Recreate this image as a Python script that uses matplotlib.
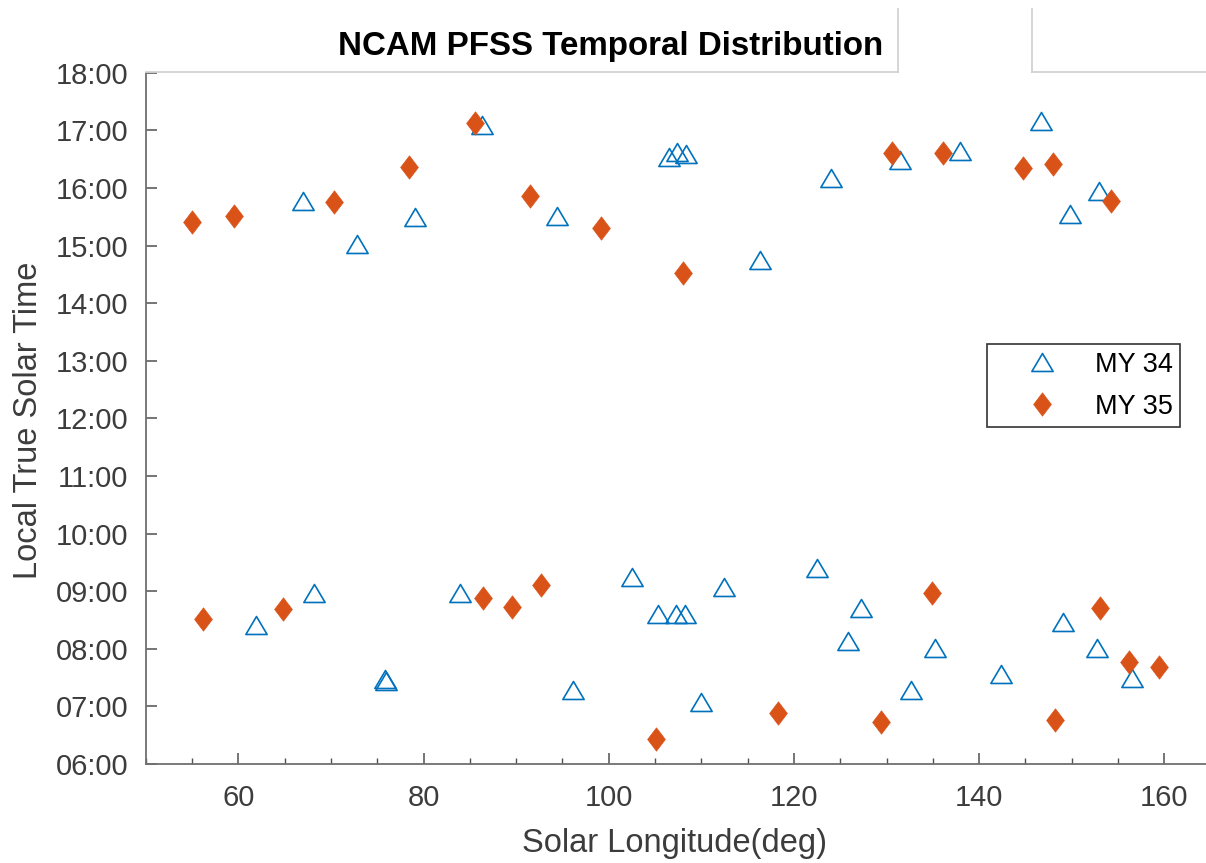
import numpy as np
import matplotlib.pyplot as plt
from matplotlib.lines import Line2D
from matplotlib.path import Path
from matplotlib.ticker import MultipleLocator, FixedLocator

plt.rcParams['font.family'] = ['Liberation Sans', 'DejaVu Sans']

# MY 34 observations: solar longitude (deg) and local true solar time (hours)
my34_ls = [66.99, 72.79, 79.08, 86.35, 94.45, 106.47, 107.39, 108.32, 116.30,
           124.05, 131.41, 137.94, 146.65, 149.77, 152.94,
           61.91, 68.21, 75.80, 76.00, 83.94, 96.11, 102.55, 105.31, 107.24,
           108.20, 110.01, 112.44, 122.47, 125.83, 127.29, 132.69, 135.19,
           142.33, 149.08, 152.74, 156.52]
my34_ltst = [15.78, 15.03, 15.50, 17.10, 15.52, 16.54, 16.63, 16.59, 14.75,
             16.18, 16.48, 16.64, 17.16, 15.54, 15.95,
             8.42, 8.97, 7.47, 7.44, 8.96, 7.28, 9.25, 8.60, 8.60,
             8.60, 7.07, 9.08, 9.40, 8.13, 8.71, 7.28, 8.01,
             7.57, 8.47, 8.02, 7.49]

# MY 35 observations
my35_ls = [54.97, 59.54, 70.30, 78.40, 85.59, 91.47, 99.20, 108.01, 130.61,
           136.09, 144.76, 147.93, 154.21,
           56.22, 64.79, 86.39, 89.52, 92.69, 105.08, 118.27, 129.42, 134.93,
           148.20, 153.01, 156.22, 159.42]
my35_ltst = [15.40, 15.52, 15.76, 16.37, 17.12, 15.86, 15.30, 14.52, 16.61,
             16.60, 16.34, 16.41, 15.78,
             8.52, 8.69, 8.89, 8.73, 9.11, 6.44, 6.89, 6.73, 8.97,
             6.77, 8.71, 7.77, 7.68]

hour_ticks = list(range(6, 19))
hour_labels = [f"{h:02d}:00" for h in hour_ticks]
ls_ticks = [60, 80, 100, 120, 140, 160]

W, H = 1206, 863
def fx(px):
    return px / W
def fy(py):
    return 1 - py / H

fig = plt.figure(figsize=(W / 100, H / 100), dpi=100)
ax = fig.add_axes([fx(145.7), fy(764.0), fx(1210.6) - fx(145.7), fy(72.7) - fy(764.0)])

# MATLAB-like markers: flat triangle and diamond (closed paths)
tri = Path([(0, 0.845), (-1, -0.845), (1, -0.845), (0, 0.845)], closed=True)
dia = Path([(0, 1), (0.76, 0), (0, -1), (-0.76, 0), (0, 1)], closed=True)

ax.plot(my34_ls, my34_ltst, linestyle='none', marker=tri, ms=15.3,
        mfc='none', mec='#0072BD', mew=1.2, label='MY 34')
ax.plot(my35_ls, my35_ltst, linestyle='none', marker=dia, ms=16.8,
        mfc='#D95319', mec='#D95319', mew=0.5, label='MY 35')

ax.set_xlim(50, 165)
ax.set_ylim(6, 18)
ax.xaxis.set_major_locator(FixedLocator(ls_ticks))
ax.xaxis.set_minor_locator(MultipleLocator(5))
ax.set_yticks(hour_ticks)
ax.set_yticklabels(hour_labels)

axis_col = '#707070'
for s in ['top', 'right']:
    ax.spines[s].set_visible(False)
for s in ['left', 'bottom']:
    ax.spines[s].set_color(axis_col)
    ax.spines[s].set_linewidth(1.3)

ax.tick_params(axis='both', which='major', direction='in', length=7.7, width=1.1,
               color='#505050', labelsize=21, labelcolor='#3c3c3c')
ax.tick_params(axis='x', which='minor', direction='in', length=4.0, width=1.0,
               color='#505050')
ax.tick_params(axis='x', which='major', pad=14.5)
ax.tick_params(axis='y', which='major', pad=12.5)

fig.text(fx(674), fy(843), 'Solar Longitude(deg)', fontsize=23.5, color='#3c3c3c',
         ha='center', va='center')
fig.text(fx(28.5), fy(420), 'Local True Solar Time', fontsize=23.5, color='#3c3c3c',
         ha='center', va='center', rotation=90)
fig.text(fx(610.5), fy(47), 'NCAM PFSS Temporal Distribution', fontsize=23.9,
         fontweight='bold', color='black', ha='center', va='center')

# light frame lines around the title area (top of the axes box)
frame_col = '#d2d2d2'
for (x0, y0), (x1, y1) in [((145.7, 72.2), (898, 72.2)),
                           ((898, 9), (898, 72.2)),
                           ((1032, 9), (1032, 72.2)),
                           ((1032, 72.2), (1206, 72.2))]:
    fig.add_artist(Line2D([fx(x0), fx(x1)], [fy(y0), fy(y1)],
                          transform=fig.transFigure, color=frame_col, lw=1.3))

leg = ax.legend(loc='upper left', bbox_to_anchor=(fx(986.7), fy(344)),
                bbox_transform=fig.transFigure, borderaxespad=0,
                fontsize=19.5, numpoints=1, handlelength=3.51, handletextpad=0.21,
                borderpad=0.28, labelspacing=0.59, fancybox=False, framealpha=1,
                edgecolor='#333333')
leg.get_frame().set_linewidth(1.2)

fig.savefig('out.png', dpi=100)
